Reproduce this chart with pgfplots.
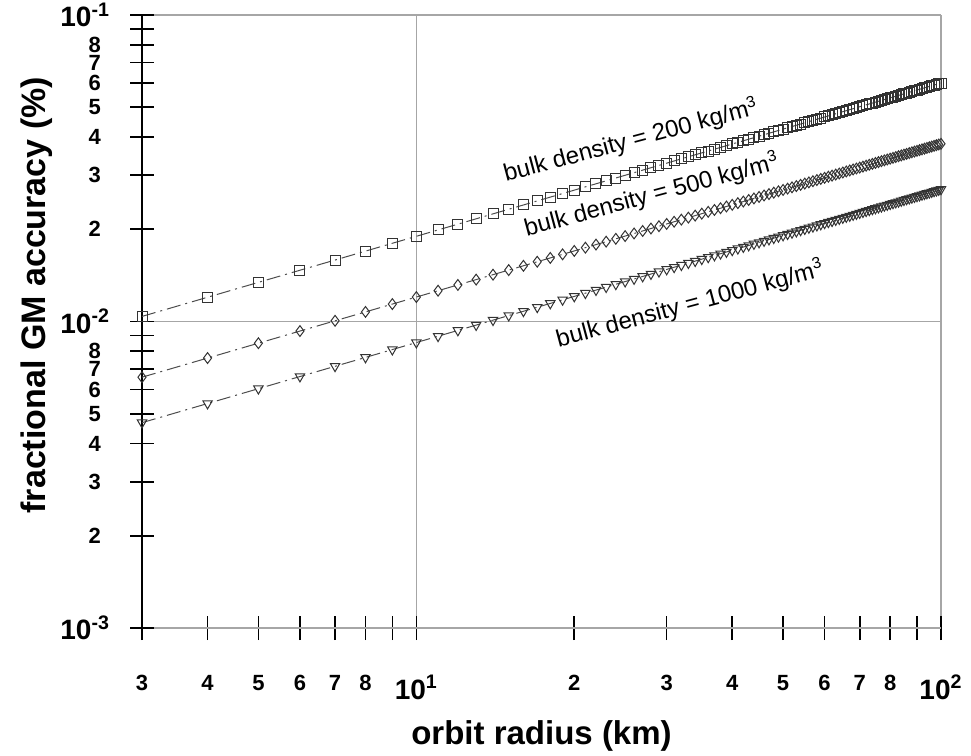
\documentclass[border=0pt]{standalone}
\usepackage{pgfplots}
\usepackage{pgfplotstable}
\pgfplotsset{compat=1.18}
\usepackage{fontspec}
\setmainfont{Liberation Sans}

\pgfplotstableread{
x a b c
3 0.01039 0.006582 0.004677
4 0.01200 0.007600 0.005400
5 0.01342 0.008497 0.006037
6 0.01470 0.009308 0.006614
7 0.01587 0.010054 0.007144
8 0.01697 0.010748 0.007637
9 0.01800 0.011400 0.008100
10 0.01897 0.012017 0.008538
11 0.01990 0.012603 0.008955
12 0.02078 0.013164 0.009353
13 0.02163 0.013701 0.009735
14 0.02245 0.014218 0.010103
15 0.02324 0.014717 0.010457
16 0.02400 0.015200 0.010800
17 0.02474 0.015668 0.011132
18 0.02546 0.016122 0.011455
19 0.02615 0.016564 0.011769
20 0.02683 0.016994 0.012075
21 0.02750 0.017414 0.012373
22 0.02814 0.017824 0.012664
23 0.02877 0.018224 0.012949
24 0.02939 0.018616 0.013227
25 0.03000 0.019000 0.013500
26 0.03059 0.019376 0.013767
27 0.03118 0.019746 0.014030
28 0.03175 0.020108 0.014287
29 0.03231 0.020464 0.014540
30 0.03286 0.020813 0.014788
31 0.03341 0.021158 0.015033
32 0.03394 0.021496 0.015274
33 0.03447 0.021829 0.015510
34 0.03499 0.022158 0.015744
35 0.03550 0.022481 0.015973
36 0.03600 0.022800 0.016200
37 0.03650 0.023115 0.016424
38 0.03699 0.023425 0.016644
39 0.03747 0.023731 0.016862
40 0.03795 0.024033 0.017076
41 0.03842 0.024332 0.017288
42 0.03888 0.024627 0.017498
43 0.03934 0.024918 0.017705
44 0.03980 0.025206 0.017910
45 0.04025 0.025491 0.018112
46 0.04069 0.025773 0.018312
47 0.04113 0.026052 0.018510
48 0.04157 0.026327 0.018706
49 0.04200 0.026600 0.018900
50 0.04243 0.026870 0.019092
51 0.04285 0.027137 0.019282
52 0.04327 0.027402 0.019470
53 0.04368 0.027664 0.019656
54 0.04409 0.027924 0.019841
55 0.04450 0.028182 0.020024
56 0.04490 0.028437 0.020205
57 0.04530 0.028689 0.020384
58 0.04569 0.028940 0.020563
59 0.04609 0.029188 0.020739
60 0.04648 0.029435 0.020914
61 0.04686 0.029679 0.021088
62 0.04724 0.029921 0.021260
63 0.04762 0.030162 0.021431
64 0.04800 0.030400 0.021600
65 0.04837 0.030637 0.021768
66 0.04874 0.030871 0.021935
67 0.04911 0.031105 0.022101
68 0.04948 0.031336 0.022265
69 0.04984 0.031565 0.022428
70 0.05020 0.031793 0.022590
71 0.05056 0.032019 0.022750
72 0.05091 0.032244 0.022910
73 0.05126 0.032467 0.023069
74 0.05161 0.032689 0.023226
75 0.05196 0.032909 0.023383
76 0.05231 0.033128 0.023538
77 0.05265 0.033345 0.023693
78 0.05299 0.033561 0.023846
79 0.05333 0.033775 0.023998
80 0.05367 0.033988 0.024150
81 0.05400 0.034200 0.024300
82 0.05433 0.034411 0.024450
83 0.05466 0.034620 0.024598
84 0.05499 0.034828 0.024746
85 0.05532 0.035034 0.024893
86 0.05564 0.035240 0.025039
87 0.05596 0.035444 0.025184
88 0.05628 0.035647 0.025328
89 0.05660 0.035849 0.025472
90 0.05692 0.036050 0.025614
91 0.05724 0.036250 0.025756
92 0.05755 0.036448 0.025898
93 0.05786 0.036646 0.026038
94 0.05817 0.036843 0.026178
95 0.05848 0.037038 0.026316
96 0.05879 0.037232 0.026455
97 0.05909 0.037426 0.026592
98 0.05940 0.037618 0.026729
99 0.05970 0.037810 0.026865
100 0.06000 0.038000 0.027000
}\datatable

\begin{document}
\begin{tikzpicture}
\begin{axis}[
  xmode=log, ymode=log,
  scale only axis,
  width=399.5pt, height=306.5pt,
  xmin=3, xmax=100, ymin=0.001, ymax=0.1,
  separate axis lines,
  x axis line style={line width=0.9pt},
  y axis line style={line width=1.4pt},
  tick align=center,
  xtick pos=bottom, ytick pos=left,
  major tick length=12pt,
  tick style={black, line width=0.8pt},
  xtick={3,4,5,6,7,8,9,20,30,40,50,60,70,80,90},
  xticklabels={3,4,5,6,7,8,,2,3,4,5,6,7,8,},
  extra x ticks={10,100},
  extra x tick labels={10\textsuperscript{1},10\textsuperscript{2}},
  ytick={0.002,0.003,0.004,0.005,0.006,0.007,0.008,0.009,0.02,0.03,0.04,0.05,0.06,0.07,0.08,0.09},
  yticklabels={2,3,4,5,6,7,8,,2,3,4,5,6,7,8,},
  extra y ticks={0.001,0.01,0.1},
  extra y tick labels={10\textsuperscript{-3},10\textsuperscript{-2},10\textsuperscript{-1}},
  extra tick style={grid=major, major grid style={gray!70, line width=0.6pt},
    tick label style={font=\bfseries\fontsize{14}{16}\selectfont}},
  extra y tick style={yticklabel shift=6.5pt},
  ticklabel style={font=\bfseries\fontsize{11}{13}\selectfont},
  xticklabel style={yshift=-14pt},
  yticklabel style={anchor=east},
  yticklabel shift=11pt,
  xlabel={\bfseries orbit radius (km)},
  ylabel={\bfseries fractional GM accuracy (\%)},
  label style={font=\bfseries\fontsize{17}{19}\selectfont},
  xlabel style={at={(axis description cs:0.5,-0.176)}, anchor=center, font=\bfseries\fontsize{16.5}{18}\selectfont},
  ylabel style={at={(axis description cs:-0.132,0.543)}, anchor=center},
  clip=false,
]
\addplot[gray!60!black, line width=0.5pt, dash pattern=on 7pt off 2.5pt on 1pt off 2.5pt,
  mark=square, mark size=2.5pt, mark options={solid, fill=white, draw=black!80, line width=0.5pt}]
  table[x=x, y=a] {\datatable};
\addplot[gray!60!black, line width=0.5pt, dash pattern=on 7pt off 2.5pt on 1pt off 2.5pt,
  mark=diamond, mark size=2.7pt, mark options={solid, fill=white, draw=black!80, line width=0.5pt}]
  table[x=x, y=b] {\datatable};
\addplot[gray!60!black, line width=0.5pt, dash pattern=on 7pt off 2.5pt on 1pt off 2.5pt,
  mark=triangle, mark size=2.7pt, mark options={solid, rotate=180, fill=white, draw=black!80, line width=0.5pt}]
  table[x=x, y=c] {\datatable};
\node[rotate=15, inner sep=0pt, font=\fontsize{12}{14}\selectfont] at (rel axis cs:0.612,0.795) {bulk density = 200 kg/m\textsuperscript{3}};
\node[rotate=15, inner sep=0pt, font=\fontsize{12}{14}\selectfont] at (rel axis cs:0.638,0.706) {bulk density = 500 kg/m\textsuperscript{3}};
\node[rotate=15, inner sep=0pt, font=\fontsize{12}{14}\selectfont] at (rel axis cs:0.686,0.528) {bulk density = 1000 kg/m\textsuperscript{3}};
\end{axis}
\pgfresetboundingbox
\path (current axis.south west) ++(-71pt,-63.5pt) coordinate (bl);
\path (current axis.north east) ++(15pt,7.5pt) coordinate (tr);
\path[use as bounding box] (bl) rectangle (tr);
\end{tikzpicture}
\end{document}
